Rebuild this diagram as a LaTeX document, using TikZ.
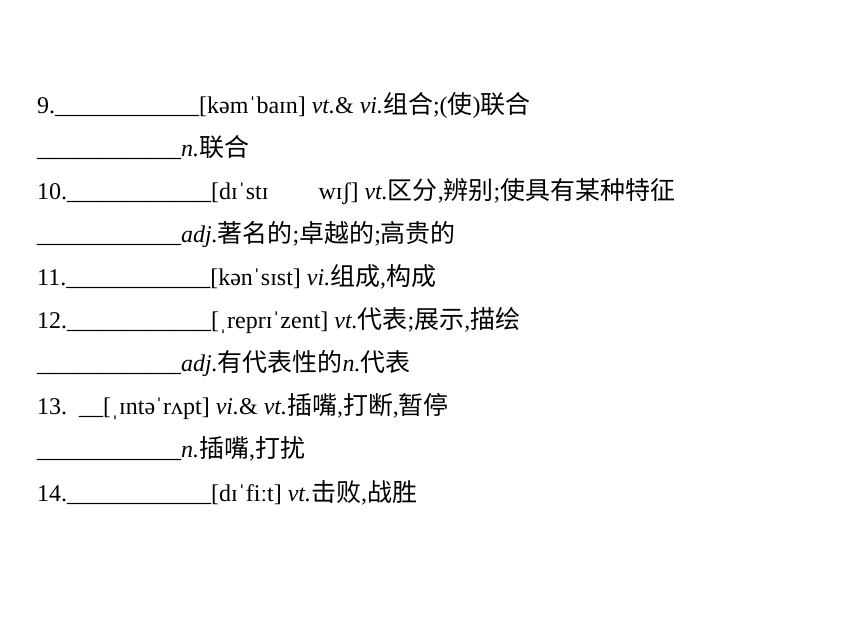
\documentclass[tikz,border=0pt]{standalone}
\usepackage{fontspec}
\setmainfont{Liberation Serif}
\newfontfamily\cjk[Scale=1.04]{Noto Sans CJK SC}
\newcommand{\zh}[1]{{\cjk #1}}
\newcommand{\blank}{\_\_\_\_\_\_\_\_\_\_\_\_}
\tikzset{
  entry/.style={anchor=base west, inner sep=0pt, font=\fontsize{24}{28}\selectfont}
}
\begin{document}
\begin{tikzpicture}[x=1pt,y=-1pt]
\useasboundingbox (0,0) rectangle (860,643);
\fill[white] (0,0) rectangle (860,643);
\node[entry] (l1) at (37,113) {9.\blank[kəmˈbaɪn] \textit{vt.}\& \textit{vi.}\zh{组合};(\zh{使})\zh{联合}};
\node[entry] (l2) at (37,156) {\blank\textit{n.}\zh{联合}};
\node[entry] (l3) at (37,199) {10.\blank[dɪˈstɪ\hspace{50pt}wɪʃ] \textit{vt.}\zh{区分},\zh{辨别};\zh{使具有某种特征}};
\node[entry] (l4) at (37,242) {\blank\textit{adj.}\zh{著名的};\zh{卓越的};\zh{高贵的}};
\node[entry] (l5) at (37,285) {11.\blank[kənˈsɪst] \textit{vi.}\zh{组成},\zh{构成}};
\node[entry] (l6) at (37,328) {12.\blank[ˌreprɪˈzent] \textit{vt.}\zh{代表};\zh{展示},\zh{描绘}};
\node[entry] (l7) at (37,371) {\blank\textit{adj.}\zh{有代表性的}\textit{n.}\zh{代表}};
\node[entry] (l8) at (37,414) {13.\ \ \_\_[ˌɪntəˈrʌpt] \textit{vi.}\& \textit{vt.}\zh{插嘴},\zh{打断},\zh{暂停}};
\node[entry] (l9) at (37,457) {\blank\textit{n.}\zh{插嘴},\zh{打扰}};
\node[entry] (l10) at (37,501) {14.\blank[dɪˈfiːt] \textit{vt.}\zh{击败},\zh{战胜}};
\end{tikzpicture}
\end{document}
